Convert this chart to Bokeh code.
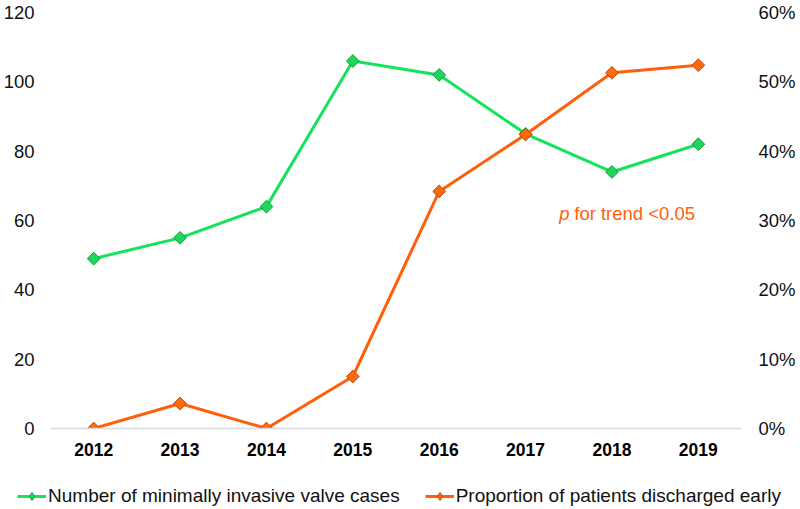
import numpy as np
from bokeh.plotting import figure
from bokeh.layouts import column
from bokeh.models import (ColumnDataSource, Range1d, LinearAxis, FixedTicker,
                          NumeralTickFormatter, Legend, LegendItem, Label, FactorRange)
from bokeh.embed import file_html
from bokeh.resources import INLINE

years = ["2012", "2013", "2014", "2015", "2016", "2017", "2018", "2019"]
cases = [49, 55, 64, 106, 102, 85, 74, 82]
early_pct = [0.0, 0.036, 0.0, 0.075, 0.342, 0.424, 0.513, 0.524]
left_ticks = [0, 20, 40, 60, 80, 100, 120]
right_ticks = [0.0, 0.1, 0.2, 0.3, 0.4, 0.5, 0.6]
trend_text = "for trend <0.05"
label_cases = "Number of minimally invasive valve cases"
label_early = "Proportion of patients discharged early"

GREEN_LINE = "#14E35C"
GREEN_FILL = "#1FD65A"
GREEN_EDGE = "#129A3C"
ORANGE_LINE = "#FF5F0A"
ORANGE_FILL = "#FF6A0A"
ORANGE_EDGE = "#B84A10"
FONT = "Liberation Sans"
W = 798

src = ColumnDataSource(dict(year=years, cases=cases, pct=early_pct))

p = figure(x_range=FactorRange(*years), y_range=Range1d(0, 120),
           width=W, height=464,
           output_backend="svg", toolbar_location=None,
           min_border_left=49, min_border_right=W - 743, min_border_top=12,
           min_border_bottom=36)
p.frame_align = False
p.outline_line_color = None
p.xgrid.visible = False
p.ygrid.visible = False
p.background_fill_color = "white"
p.border_fill_color = "white"

p.extra_y_ranges = {"pct": Range1d(0, 0.6)}

# left axis
ya = p.yaxis[0]
ya.ticker = FixedTicker(ticks=left_ticks)
ya.axis_line_color = None
ya.major_tick_line_color = None
ya.minor_tick_line_color = None
ya.major_tick_in = 0
ya.major_tick_out = 0
ya.major_label_standoff = 16
ya.major_label_text_font = FONT
ya.major_label_text_font_size = "18.5px"
ya.major_label_text_color = "#111111"

# right axis
ra = LinearAxis(y_range_name="pct", ticker=FixedTicker(ticks=right_ticks),
                formatter=NumeralTickFormatter(format="0%"))
ra.axis_line_color = None
ra.major_tick_line_color = None
ra.minor_tick_line_color = None
ra.major_tick_in = 0
ra.major_tick_out = 0
ra.major_label_standoff = 17
ra.major_label_text_font = FONT
ra.major_label_text_font_size = "18.5px"
ra.major_label_text_color = "#111111"
p.add_layout(ra, "right")

# x axis
xa = p.xaxis[0]
xa.axis_line_color = "#D9D9D9"
xa.axis_line_width = 1.5
xa.major_tick_line_color = None
xa.minor_tick_line_color = None
xa.major_tick_in = 0
xa.major_tick_out = 0
xa.major_label_standoff = 14
xa.major_label_text_font = FONT
xa.major_label_text_font_size = "17.5px"
xa.major_label_text_font_style = "bold"
xa.major_label_text_color = "#000000"

def draw(fig, marker="square", angle=np.pi / 4, size=9):
    gl = fig.line("year", "cases", source=src, line_color=GREEN_LINE, line_width=3)
    gp = fig.scatter("year", "cases", source=src, marker=marker, angle=angle,
                     size=size, fill_color=GREEN_FILL, line_color=GREEN_EDGE, line_width=1)
    kw = dict(y_range_name="pct") if "pct" in fig.extra_y_ranges else {}
    ol = fig.line("year", "pct", source=src, line_color=ORANGE_LINE, line_width=3, **kw)
    op = fig.scatter("year", "pct", source=src, marker=marker, angle=angle,
                     size=size, fill_color=ORANGE_FILL, line_color=ORANGE_EDGE,
                     line_width=1, **kw)
    return gl, gp, ol, op

draw(p)

lp = Label(x=5.89, y=62, text="p", text_font=FONT, text_font_size="18.5px",
           text_font_style="italic", text_color=ORANGE_LINE, text_baseline="middle")
lt = Label(x=5.89, y=62, x_offset=15, text=trend_text, text_font=FONT,
           text_font_size="18.5px", text_color=ORANGE_LINE, text_baseline="middle")
p.add_layout(lp)
p.add_layout(lt)

# legend strip below the chart (its own glyphs lie outside its visible range)
lf = figure(x_range=FactorRange(*years), y_range=Range1d(1000, 1001),
            width=W, height=45, output_backend="svg", toolbar_location=None,
            x_axis_location=None, y_axis_location=None,
            min_border_left=0, min_border_right=0, min_border_top=0,
            min_border_bottom=0)
lf.frame_align = False
lf.outline_line_color = None
lf.xgrid.visible = False
lf.ygrid.visible = False
gl2, gp2, ol2, op2 = draw(lf, marker="diamond", angle=0, size=13)

legend = Legend(items=[
    LegendItem(label=label_cases, renderers=[gl2, gp2]),
    LegendItem(label=label_early, renderers=[ol2, op2]),
], orientation="horizontal", location="top_center")
legend.label_text_font = FONT
legend.label_text_font_size = "19px"
legend.label_text_color = "#111111"
legend.border_line_color = None
legend.background_fill_alpha = 0
legend.glyph_width = 29
legend.glyph_height = 20
legend.label_standoff = 2
legend.spacing = 25
legend.padding = 2
legend.margin = 21
lf.add_layout(legend)

layout = column(p, lf, spacing=0)
open("out.html", "w").write(file_html(layout, INLINE))
